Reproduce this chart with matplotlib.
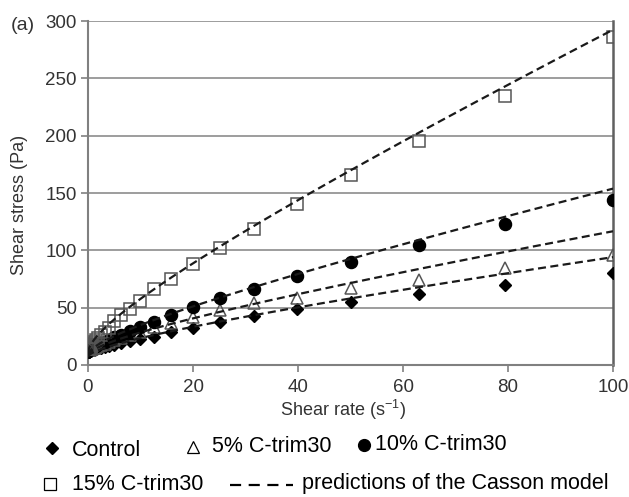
import numpy as np
import matplotlib
matplotlib.use('Agg')
import matplotlib.pyplot as plt

plt.rcParams['font.family'] = ['Liberation Sans', 'DejaVu Sans']

# Shear rates (1/s), 10 points per decade
shear_rate = [0.1, 0.126, 0.158, 0.2, 0.251, 0.316, 0.398, 0.501, 0.631, 0.794,
              1.0, 1.26, 1.58, 2.0, 2.51, 3.16, 3.98, 5.01, 6.31, 7.94,
              10.0, 12.6, 15.8, 20.0, 25.1, 31.6, 39.8, 50.1, 63.1, 79.4, 100.0]

# Measured shear stress (Pa)
control = [11.5, 11.6, 11.7, 11.8, 11.9, 12.1, 12.3, 12.5, 12.7, 13.0,
           13.3, 13.7, 14.1, 14.6, 15.2, 15.9, 16.8, 17.8, 19.0, 20.5,
           22.5, 24.7, 29.0, 32.6, 37.8, 42.8, 48.9, 55.2, 61.7, 69.8, 80.0]
ctrim5 = [12.7, 12.8, 12.9, 13.0, 13.1, 13.3, 13.5, 13.7, 14.0, 14.3,
          14.7, 15.2, 15.8, 16.5, 17.4, 18.5, 19.8, 21.5, 23.5, 26.0,
          29.0, 33.0, 37.0, 41.6, 48.0, 53.8, 58.2, 67.0, 74.0, 84.3, 96.0]
ctrim10 = [13.3, 13.4, 13.5, 13.6, 13.8, 14.0, 14.2, 14.5, 14.8, 15.2,
           15.7, 16.3, 17.0, 17.9, 19.0, 20.3, 22.0, 24.0, 26.5, 29.5,
           33.4, 37.8, 43.6, 50.3, 58.2, 66.0, 77.7, 90.0, 104.7, 123.0, 144.0]
ctrim15 = [13.7, 13.9, 14.1, 14.3, 14.6, 15.0, 15.4, 16.0, 16.7, 17.6,
           18.7, 20.0, 21.5, 23.5, 26.0, 29.0, 32.5, 38.0, 43.5, 49.0,
           55.5, 66.0, 75.0, 88.0, 101.8, 118.7, 140.5, 165.8, 195.5, 235.0, 286.0]

# Casson model parameters: sqrt(tau) = sqrt(tau0) + sqrt(eta * shear_rate)
casson_tau0 = [6.76, 7.84, 8.41, 10.24]   # Pa
casson_eta = [0.504, 0.640, 0.903, 1.932]  # Pa s

labels = ['Control', '5% C-trim30', '10% C-trim30', '15% C-trim30']

fig = plt.figure(figsize=(6.29, 4.97), dpi=100)
ax = fig.add_axes([0.1399, 0.2656, 0.8347, 0.6921])

gray = '#555555'
ax.plot(shear_rate, control, ls='none', marker='D', ms=6.2, c='black', zorder=3)
ax.plot(shear_rate, ctrim5, ls='none', marker='^', ms=9, mfc='none', mec=gray, mew=1.1, zorder=3)
ax.plot(shear_rate, ctrim10, ls='none', marker='o', ms=8.7, c='black', zorder=3)
ax.plot(shear_rate, ctrim15, ls='none', marker='s', ms=8.5, mfc='none', mec=gray, mew=1.1, zorder=3)

g = np.linspace(0, 100, 500)
for t0, eta in zip(casson_tau0, casson_eta):
    tau = (np.sqrt(t0) + np.sqrt(eta * g))**2
    ax.plot(g, tau, c='#1a1a1a', lw=1.6, dashes=(3.6, 2.0), zorder=4)

ax.set_xlim(0, 100)
ax.set_ylim(0, 300)
ax.set_xticks(np.arange(0, 101, 20))
ax.set_yticks(np.arange(0, 301, 50))
ax.yaxis.grid(True, color='#8c8c8c', lw=1.2)
ax.set_axisbelow(True)
for s in ['left', 'bottom']:
    ax.spines[s].set_color('#808080')
    ax.spines[s].set_linewidth(1.5)
ax.spines['right'].set_color('#606060')
ax.spines['right'].set_linewidth(1.8)
ax.spines['top'].set_visible(False)
ax.tick_params(direction='out', length=5, width=1.2, color='#808080',
               labelsize=13.5, labelcolor='#333333', pad=3)
ax.tick_params(axis='x', pad=5)

fig.text(0.545, 1 - 410/497, 'Shear rate (s$^{\\mathregular{-1}}$)', ha='center', va='center',
         fontsize=13, color='#333333')
fig.text(20/629, 1 - 205/497, 'Shear stress (Pa)', ha='center', va='center',
         rotation=90, fontsize=13, color='#333333')
fig.text(11/629, 1 - 25/497, '(a)', ha='left', va='center', fontsize=14, color='#333333')


# Legend written out below the axes
def fx(px):
    return px / 629


def fy(py):
    return 1 - py / 497


def symbol(px, py, **kw):
    fig.add_artist(plt.Line2D([fx(px)], [fy(py)], transform=fig.transFigure, ls='none', **kw))


leg = dict(fontsize=15.5, color='black', va='center', ha='left')
symbol(52, 448, marker='D', ms=6.5, c='black')
fig.text(fx(72), fy(450), labels[0], **leg)
symbol(193, 447, marker='^', ms=9, mfc='none', mec='black', mew=0.9)
fig.text(fx(212), fy(446), labels[1], **leg)
symbol(364, 445, marker='o', ms=8.5, c='black')
fig.text(fx(375), fy(445), labels[2], **leg)
symbol(50, 484, marker='s', ms=8, mfc='none', mec='black', mew=0.9)
fig.text(fx(72), fy(484), labels[3], **leg)
fig.add_artist(plt.Line2D([fx(230), fx(293)], [fy(485), fy(485)], transform=fig.transFigure,
                          c='black', lw=1.6, dashes=(5.0, 3.4)))
fig.text(fx(302), fy(484), 'predictions of the Casson model', **leg)

fig.savefig('out.png', dpi=100)
